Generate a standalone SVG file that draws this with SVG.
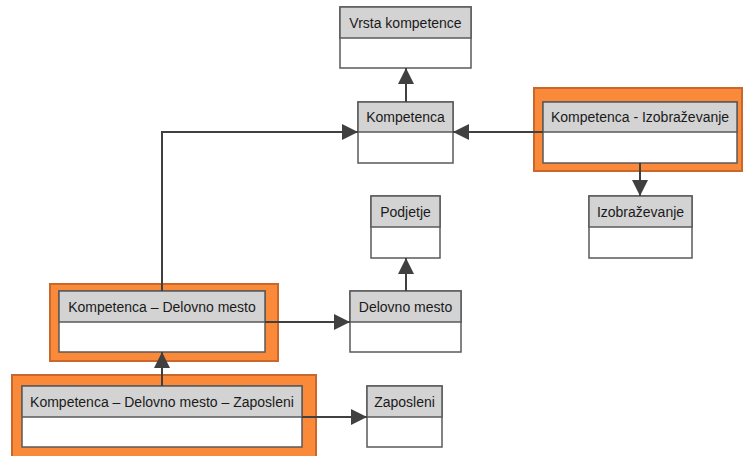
<svg xmlns="http://www.w3.org/2000/svg" width="743" height="456" viewBox="0 0 743 456">
<style>
.hl{fill:#FA8A3A;stroke:#C8682C;stroke-width:2}
.box{fill:#FFFFFF;stroke:#5A5A5A;stroke-width:1.5}
.hd{fill:#D3D3D3;stroke:#5A5A5A;stroke-width:1.5}
.t{font-family:"Liberation Sans",Arial,sans-serif;font-size:14px;fill:#1A1A1A;text-anchor:middle}
.c{fill:none;stroke:#404040;stroke-width:2}
</style>
<defs>
<marker id="ar" viewBox="0 0 16 16" refX="16" refY="8" markerWidth="16" markerHeight="16" markerUnits="userSpaceOnUse" orient="auto">
<path d="M0,0 L16,8 L0,16 Z" fill="#404040"/>
</marker>
</defs>
<rect width="743" height="456" fill="#FFFFFF"/>
<g id="n-vrsta">
<rect class="box" x="340" y="7" width="131" height="61"/>
<rect class="hd" x="340" y="7" width="131" height="31"/>
<text class="t" x="405.5" y="27.5">Vrsta kompetence</text>
</g>
<g id="n-kompetenca">
<rect class="box" x="358" y="102" width="95" height="61"/>
<rect class="hd" x="358" y="102" width="95" height="30"/>
<text class="t" x="405.5" y="122">Kompetenca</text>
</g>
<g id="n-komp-izob">
<rect class="hl" x="534" y="88" width="208" height="83"/>
<rect class="box" x="543" y="102" width="194" height="61"/>
<rect class="hd" x="543" y="102" width="194" height="30"/>
<text class="t" x="640" y="122">Kompetenca - Izobraževanje</text>
</g>
<g id="n-izob">
<rect class="box" x="589" y="196" width="103" height="62"/>
<rect class="hd" x="589" y="196" width="103" height="31"/>
<text class="t" x="640.5" y="216.5">Izobraževanje</text>
</g>
<g id="n-podjetje">
<rect class="box" x="371" y="196" width="69" height="62"/>
<rect class="hd" x="371" y="196" width="69" height="31"/>
<text class="t" x="405.5" y="216.5">Podjetje</text>
</g>
<g id="n-komp-dm">
<rect class="hl" x="50" y="284" width="228" height="77"/>
<rect class="box" x="59" y="291" width="206" height="61"/>
<rect class="hd" x="59" y="291" width="206" height="31"/>
<text class="t" x="162" y="311.5">Kompetenca – Delovno mesto</text>
</g>
<g id="n-dm">
<rect class="box" x="350" y="291" width="111" height="61"/>
<rect class="hd" x="350" y="291" width="111" height="31"/>
<text class="t" x="405.5" y="311.5">Delovno mesto</text>
</g>
<g id="n-komp-dm-zap">
<rect class="hl" x="12" y="375" width="304" height="86"/>
<rect class="box" x="22" y="386" width="280" height="61"/>
<rect class="hd" x="22" y="386" width="280" height="31"/>
<text class="t" x="162" y="406.5">Kompetenca – Delovno mesto – Zaposleni</text>
</g>
<g id="n-zaposleni">
<rect class="box" x="367" y="386" width="75" height="61"/>
<rect class="hd" x="367" y="386" width="75" height="31"/>
<text class="t" x="404.5" y="406.5">Zaposleni</text>
</g>
<g id="connectors">
<path class="c" d="M406,102 V68" marker-end="url(#ar)"/>
<path class="c" d="M543,132 H453" marker-end="url(#ar)"/>
<path class="c" d="M640,163 V196" marker-end="url(#ar)"/>
<path class="c" d="M162,291 V132 H358" marker-end="url(#ar)"/>
<path class="c" d="M265,322 H350" marker-end="url(#ar)"/>
<path class="c" d="M406,291 V258" marker-end="url(#ar)"/>
<path class="c" d="M162,386 V352" marker-end="url(#ar)"/>
<path class="c" d="M302,417 H367" marker-end="url(#ar)"/>
</g>
</svg>
